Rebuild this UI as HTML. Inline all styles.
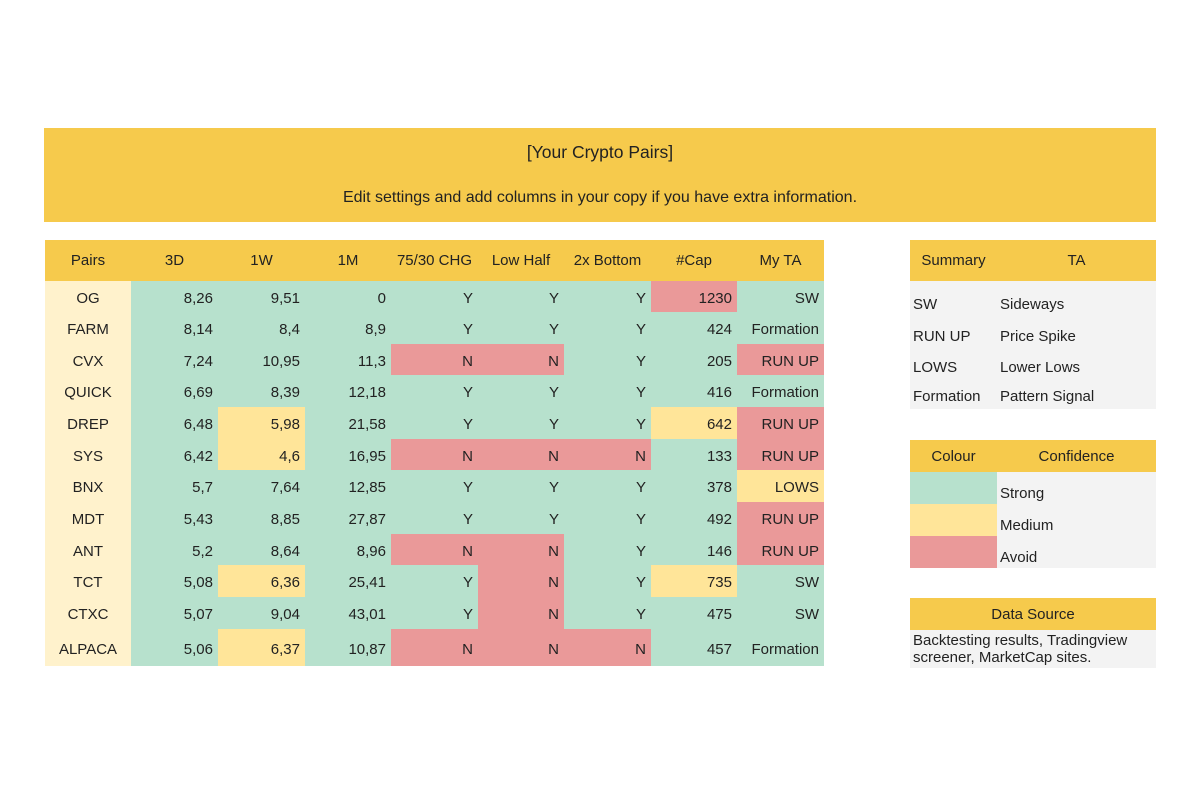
<!DOCTYPE html>
<html><head><meta charset="utf-8">
<style>
body{margin:0;width:1200px;height:800px;background:#fff;position:relative;font-family:"Liberation Sans",sans-serif;color:#222;overflow:hidden}
.banner{position:absolute;left:44px;top:128px;width:1112px;height:94px;background:#f6ca4c;text-align:center}
.banner .t{position:absolute;top:14px;width:100%;font-size:17.5px}
.banner .s{position:absolute;top:61px;width:100%;font-size:16px}
table{border-collapse:collapse;position:absolute;table-layout:fixed;font-size:15px}
td{padding:0 5px;white-space:nowrap;overflow:hidden}
#m{left:45px;top:240px}
#m tr.h td{background:#f6ca4c;height:41px;text-align:center;padding-top:0}
#m td{text-align:right;background:#b7e1cd;padding-top:3px}
#m td.p{background:#fff2cc;text-align:center}
#m td.r{background:#ea9999}
#m td.y{background:#ffe599}
.g{background:#f3f3f3}
.hd{background:#f6ca4c;text-align:center}
</style></head><body>
<div class="banner"><div class="t">[Your Crypto Pairs]</div><div class="s">Edit settings and add columns in your copy if you have extra information.</div></div>
<table id="m">
<colgroup><col style="width:86px"><col style="width:87px"><col style="width:87px"><col style="width:86px"><col style="width:87px"><col style="width:86px"><col style="width:87px"><col style="width:86px"><col style="width:87px"></colgroup>
<tr class="h"><td style="text-align:center">Pairs</td><td style="text-align:center">3D</td><td style="text-align:center">1W</td><td style="text-align:center">1M</td><td style="text-align:center">75/30 CHG</td><td style="text-align:center">Low Half</td><td style="text-align:center">2x Bottom</td><td style="text-align:center">#Cap</td><td style="text-align:center">My TA</td></tr>
<tr style="height:31px"><td class="p">OG</td><td>8,26</td><td>9,51</td><td>0</td><td>Y</td><td>Y</td><td>Y</td><td class="r">1230</td><td>SW</td></tr>
<tr style="height:32px"><td class="p">FARM</td><td>8,14</td><td>8,4</td><td>8,9</td><td>Y</td><td>Y</td><td>Y</td><td>424</td><td>Formation</td></tr>
<tr style="height:31px"><td class="p">CVX</td><td>7,24</td><td>10,95</td><td>11,3</td><td class="r">N</td><td class="r">N</td><td>Y</td><td>205</td><td class="r">RUN UP</td></tr>
<tr style="height:32px"><td class="p">QUICK</td><td>6,69</td><td>8,39</td><td>12,18</td><td>Y</td><td>Y</td><td>Y</td><td>416</td><td>Formation</td></tr>
<tr style="height:32px"><td class="p">DREP</td><td>6,48</td><td class="y">5,98</td><td>21,58</td><td>Y</td><td>Y</td><td>Y</td><td class="y">642</td><td class="r">RUN UP</td></tr>
<tr style="height:31px"><td class="p">SYS</td><td>6,42</td><td class="y">4,6</td><td>16,95</td><td class="r">N</td><td class="r">N</td><td class="r">N</td><td>133</td><td class="r">RUN UP</td></tr>
<tr style="height:32px"><td class="p">BNX</td><td>5,7</td><td>7,64</td><td>12,85</td><td>Y</td><td>Y</td><td>Y</td><td>378</td><td class="y">LOWS</td></tr>
<tr style="height:32px"><td class="p">MDT</td><td>5,43</td><td>8,85</td><td>27,87</td><td>Y</td><td>Y</td><td>Y</td><td>492</td><td class="r">RUN UP</td></tr>
<tr style="height:31px"><td class="p">ANT</td><td>5,2</td><td>8,64</td><td>8,96</td><td class="r">N</td><td class="r">N</td><td>Y</td><td>146</td><td class="r">RUN UP</td></tr>
<tr style="height:32px"><td class="p">TCT</td><td>5,08</td><td class="y">6,36</td><td>25,41</td><td>Y</td><td class="r">N</td><td>Y</td><td class="y">735</td><td>SW</td></tr>
<tr style="height:32px"><td class="p">CTXC</td><td>5,07</td><td>9,04</td><td>43,01</td><td>Y</td><td class="r">N</td><td>Y</td><td>475</td><td>SW</td></tr>
<tr style="height:37px"><td class="p">ALPACA</td><td>5,06</td><td class="y">6,37</td><td>10,87</td><td class="r">N</td><td class="r">N</td><td class="r">N</td><td>457</td><td>Formation</td></tr>
</table>

<table style="left:910px;top:240px">
<colgroup><col style="width:87px"><col style="width:159px"></colgroup>
<tr style="height:41px"><td class="hd">Summary</td><td class="hd">TA</td></tr>
<tr style="height:7px"><td class="g" colspan="2"></td></tr>
<tr style="height:32px"><td class="g" style="padding-left:3px">SW</td><td class="g" style="padding-left:3px">Sideways</td></tr>
<tr style="height:32px"><td class="g" style="padding-left:3px">RUN UP</td><td class="g" style="padding-left:3px">Price Spike</td></tr>
<tr style="height:31px"><td class="g" style="padding-left:3px">LOWS</td><td class="g" style="padding-left:3px">Lower Lows</td></tr>
<tr style="height:26px"><td class="g" style="padding-left:3px">Formation</td><td class="g" style="padding-left:3px">Pattern Signal</td></tr>
</table>

<table style="left:910px;top:440px">
<colgroup><col style="width:87px"><col style="width:159px"></colgroup>
<tr style="height:32px"><td class="hd">Colour</td><td class="hd">Confidence</td></tr>
<tr style="height:32px"><td style="background:#b7e1cd"></td><td class="g" style="padding-left:3px;vertical-align:bottom;padding-bottom:2px">Strong</td></tr>
<tr style="height:32px"><td style="background:#ffe599"></td><td class="g" style="padding-left:3px;vertical-align:bottom;padding-bottom:2px">Medium</td></tr>
<tr style="height:32px"><td style="background:#ea9999"></td><td class="g" style="padding-left:3px;vertical-align:bottom;padding-bottom:2px">Avoid</td></tr>
</table>

<table style="left:910px;top:598px">
<colgroup><col style="width:246px"></colgroup>
<tr style="height:32px"><td class="hd">Data Source</td></tr>
<tr style="height:38px"><td class="g" style="padding:0 3px;white-space:normal;line-height:17px">Backtesting results, Tradingview screener, MarketCap sites.</td></tr>
</table>
</body></html>
